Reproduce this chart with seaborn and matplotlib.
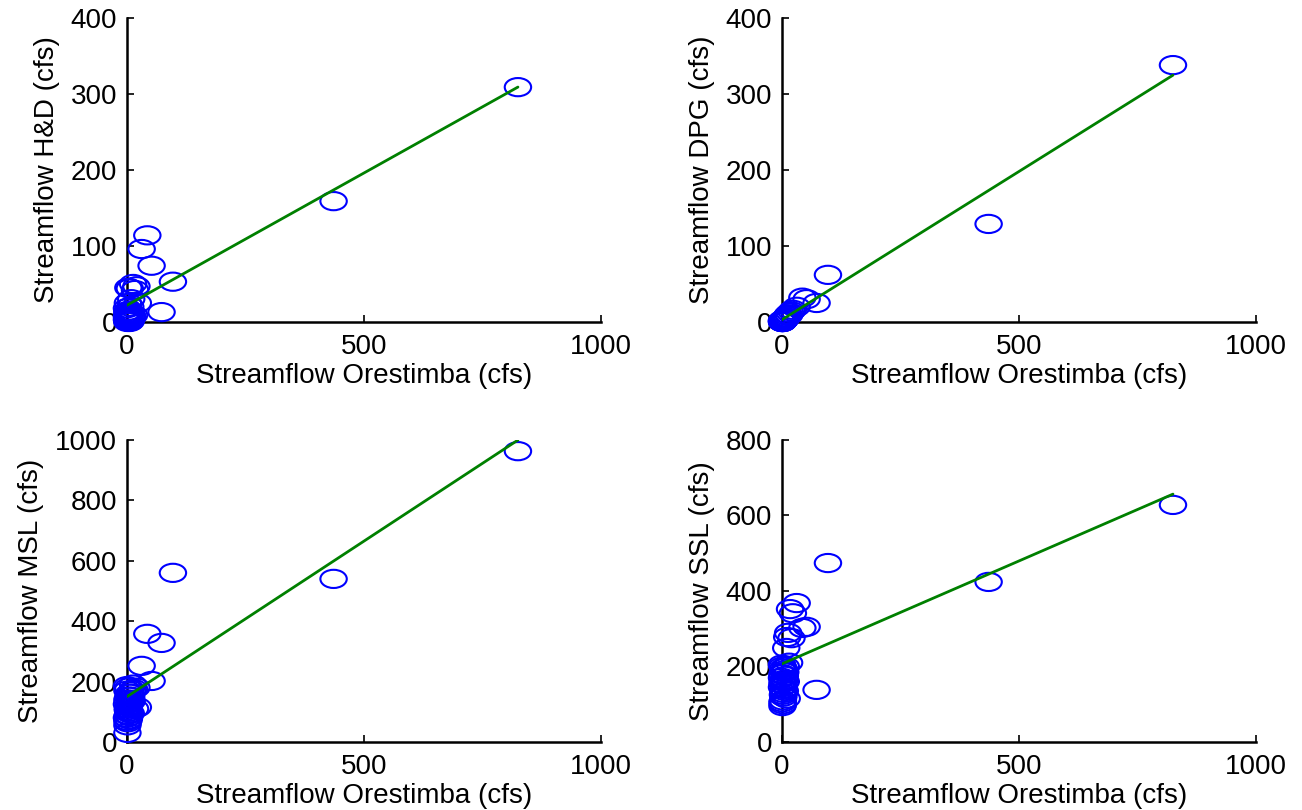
import numpy as np
import pandas as pd
import seaborn as sns
import matplotlib.pyplot as plt
from matplotlib.path import Path
from matplotlib.transforms import Affine2D

# Orestimba streamflow (cfs), shared x for all four panels
orestimba = [825, 436, 97, 73, 52, 43, 31, 23, 20, 17,
             13, 11, 9, 8, 7, 6, 5, 5, 4, 4,
             3, 3, 2, 2, 2, 1, 1, 1, 1, 0,
             0, 0, 2, 3, 6, 10, 15, 1, 4, 8]

hd = [309, 159, 53, 13, 74, 114, 96, 25, 47, 42,
      50, 8, 30, 12, 20, 44, 5, 15, 3, 10,
      45, 6, 2, 8, 25, 4, 1, 12, 0, 3,
      7, 18, 10, 2, 0, 5, 9, 14, 6, 1]

dpg = [338, 129, 62, 25, 30, 32, 20, 16, 14, 12,
       10, 8, 6, 5, 4, 4, 3, 3, 2, 2,
       2, 1, 1, 1, 1, 1, 0, 0, 0, 0,
       1, 2, 0, 1, 3, 6, 9, 0, 2, 5]

msl = [963, 540, 560, 328, 202, 358, 252, 115, 180, 110,
       190, 170, 150, 95, 140, 130, 85, 160, 75, 100,
       120, 180, 65, 90, 110, 140, 55, 170, 30, 80,
       125, 185, 105, 150, 95, 135, 175, 70, 115, 160]

ssl = [628, 424, 474, 138, 305, 302, 368, 341, 275, 352,
       289, 278, 249, 200, 185, 175, 165, 190, 150, 140,
       130, 120, 110, 100, 160, 180, 200, 155, 95, 170,
       145, 205, 125, 195, 135, 115, 210, 105, 185, 160]

# linear fits (intercept, slope)
fit_int = [22, 3, 150, 207]
fit_slope = [0.348, 0.39, 1.03, 0.545]

ylabels = ['Streamflow H&D (cfs)', 'Streamflow DPG (cfs)',
           'Streamflow MSL (cfs)', 'Streamflow SSL (cfs)']
ymax = [400, 400, 1000, 800]
ystep = [100, 100, 200, 200]
series = [hd, dpg, msl, ssl]

sns.set_style("white")
plt.rcParams['font.family'] = ['Liberation Sans', 'DejaVu Sans']

fig = plt.figure(figsize=(13.02, 8.10), dpi=100)
positions = [[0.0975, 0.6025, 0.364, 0.3753],
             [0.6006, 0.6025, 0.364, 0.3753],
             [0.0975, 0.0840, 0.364, 0.3728],
             [0.6006, 0.0840, 0.364, 0.3728]]

ellipse = Path.unit_circle().transformed(Affine2D().scale(1.45, 1.0))

for i in range(4):
    ax = fig.add_axes(positions[i])
    df = pd.DataFrame({'x': orestimba, 'y': series[i]})
    sns.scatterplot(data=df, x='x', y='y', ax=ax, marker=ellipse, s=19**2,
                    facecolor='none', edgecolor='#0000ff', linewidth=1.5,
                    clip_on=False, zorder=3)
    xs = np.array([min(orestimba), max(orestimba)])
    sns.lineplot(x=xs, y=fit_int[i] + fit_slope[i] * xs, ax=ax,
                 color='#008000', linewidth=2.0, zorder=4)
    ax.set_xlim(0, 1000)
    ax.set_ylim(0, ymax[i])
    ax.set_xticks([0, 500, 1000])
    ax.set_yticks(np.arange(0, ymax[i] + 1, ystep[i]))
    ax.tick_params(direction='in', length=5, width=1.2, labelsize=20,
                   colors='black', bottom=True, left=True)
    ax.tick_params(axis='x', pad=9)
    ax.tick_params(axis='y', pad=7)
    for side in ['top', 'right']:
        ax.spines[side].set_visible(False)
    for side in ['left', 'bottom']:
        ax.spines[side].set_color('black')
        ax.spines[side].set_linewidth(1.8)
    ax.set_xlabel('Streamflow Orestimba (cfs)', fontsize=20, labelpad=2,
                  color='black')
    ax.set_ylabel(ylabels[i], fontsize=20, labelpad=8, color='black')

fig.savefig('out.png', dpi=100, facecolor='white')
